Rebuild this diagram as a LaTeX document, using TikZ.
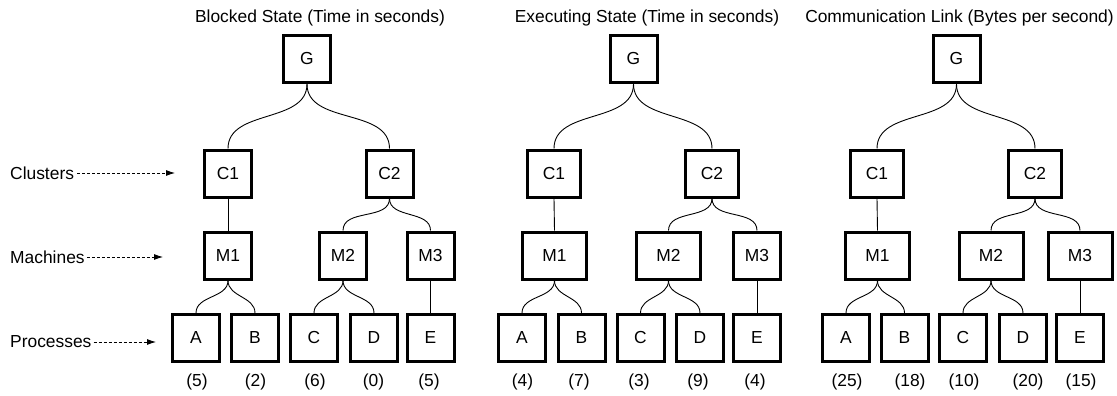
\documentclass[tikz,border=0pt]{standalone}
\usepackage{fontspec}
\setmainfont{Liberation Sans}
\usetikzlibrary{arrows.meta}
\begin{document}
\begin{tikzpicture}[x=1pt,y=-1pt,
  every node/.style={font=\fontsize{17.4}{20.9}\selectfont},
  box/.style={draw, line width=3pt, minimum height=47pt, minimum width=47pt, inner sep=0pt},
  wbox/.style={box, minimum width=53pt},
  mbox/.style={box, minimum width=64pt},
  conn/.style={line width=0.9pt},
  dasharrow/.style={line width=0.8pt, dash pattern=on 3pt off 2pt, -{Latex[length=9pt,width=6pt]}},
  ttl/.style={anchor=base},
  val/.style={inner sep=0pt}
]
\path[use as bounding box] (0,0) rectangle (1117,396);

% left labels
\node[anchor=west, inner sep=0pt] (lclus) at (10,173) {Clusters};
\node[anchor=west, inner sep=0pt] (lmach) at (10,257) {Machines};
\node[anchor=west, inner sep=0pt] (lproc) at (10,342) {Processes};
\coordinate (tclus) at (175,173);
\coordinate (tmach) at (163,257);
\coordinate (tproc) at (156,342);
\draw[dasharrow] ([xshift=3pt]lclus.east) -- (tclus);
\draw[dasharrow] ([xshift=2pt]lmach.east) -- (tmach);
\draw[dasharrow] ([xshift=2pt]lproc.east) -- (tproc);

% ---------- tree 1 ----------
\node[ttl] (t1) at (320,23) {Blocked State (Time in seconds)};
\node[box] (aG) at (307,59) {G};
\node[box] (aC1) at (228,173.5) {C1};
\node[box] (aC2) at (389.5,173.5) {C2};
\node[box] (aM1) at (228,255.5) {M1};
\node[box] (aM2) at (343,255.5) {M2};
\node[box] (aM3) at (430.5,255.5) {M3};
\node[box] (aA) at (196,338) {A};
\node[box] (aB) at (255,338) {B};
\node[box] (aC) at (314,338) {C};
\node[box] (aD) at (374,338) {D};
\node[box] (aE) at (430.5,338) {E};
\node[val] (avA) at (197,382) {(5)};
\node[val] (avB) at (255.5,382) {(2)};
\node[val] (avC) at (315,382) {(6)};
\node[val] (avD) at (373.5,382) {(0)};
\node[val] (avE) at (429,382) {(5)};
\draw[conn] (aG.south) to[out=-90,in=90] (aC1.north);
\draw[conn] (aG.south) to[out=-90,in=90] (aC2.north);
\draw[conn] (aC1.south) -- (aM1.north);
\draw[conn] (aC2.south) to[out=-90,in=90] (aM2.north);
\draw[conn] (aC2.south) to[out=-90,in=90] (aM3.north);
\draw[conn] (aM1.south) to[out=-90,in=90] (aA.north);
\draw[conn] (aM1.south) to[out=-90,in=90] (aB.north);
\draw[conn] (aM2.south) to[out=-90,in=90] (aC.north);
\draw[conn] (aM2.south) to[out=-90,in=90] (aD.north);
\draw[conn] (aM3.south) -- (aE.north);

% ---------- tree 2 ----------
\node[ttl] (t2) at (647,23) {Executing State (Time in seconds)};
\node[box] (bG) at (633.5,59) {G};
\node[wbox] (bC1) at (554,173.5) {C1};
\node[wbox] (bC2) at (712,173.5) {C2};
\node[mbox] (bM1) at (554.5,255.5) {M1};
\node[mbox] (bM2) at (668.5,255.5) {M2};
\node[box] (bM3) at (757,255.5) {M3};
\node[box] (bA) at (522,338) {A};
\node[box] (bB) at (581.5,338) {B};
\node[box] (bC) at (640.5,338) {C};
\node[box] (bD) at (700,338) {D};
\node[box] (bE) at (757,338) {E};
\node[val] (bvA) at (522.5,382) {(4)};
\node[val] (bvB) at (579,382) {(7)};
\node[val] (bvC) at (639,382) {(3)};
\node[val] (bvD) at (698,382) {(9)};
\node[val] (bvE) at (755,382) {(4)};
\draw[conn] (bG.south) to[out=-90,in=90] (bC1.north);
\draw[conn] (bG.south) to[out=-90,in=90] (bC2.north);
\draw[conn] (bC1.south) -- (bM1.north);
\draw[conn] (bC2.south) to[out=-90,in=90] (bM2.north);
\draw[conn] (bC2.south) to[out=-90,in=90] (bM3.north);
\draw[conn] (bM1.south) to[out=-90,in=90] (bA.north);
\draw[conn] (bM1.south) to[out=-90,in=90] (bB.north);
\draw[conn] (bM2.south) to[out=-90,in=90] (bC.north);
\draw[conn] (bM2.south) to[out=-90,in=90] (bD.north);
\draw[conn] (bM3.south) -- (bE.north);

% ---------- tree 3 ----------
\node[ttl] (t3) at (959.5,23) {Communication Link (Bytes per second)};
\node[box] (cG) at (956.5,59) {G};
\node[wbox] (cC1) at (877,173.5) {C1};
\node[wbox] (cC2) at (1035,173.5) {C2};
\node[mbox] (cM1) at (877.5,255.5) {M1};
\node[mbox] (cM2) at (991,255.5) {M2};
\node[mbox] (cM3) at (1080,255.5) {M3};
\node[box] (cA) at (846,338) {A};
\node[box] (cB) at (904.5,338) {B};
\node[box] (cC) at (963,338) {C};
\node[box] (cD) at (1023,338) {D};
\node[box] (cE) at (1080,338) {E};
\node[val] (cvA) at (847,382) {(25)};
\node[val] (cvB) at (910,382) {(18)};
\node[val] (cvC) at (964,382) {(10)};
\node[val] (cvD) at (1028,382) {(20)};
\node[val] (cvE) at (1081,382) {(15)};
\draw[conn] (cG.south) to[out=-90,in=90] (cC1.north);
\draw[conn] (cG.south) to[out=-90,in=90] (cC2.north);
\draw[conn] (cC1.south) -- (cM1.north);
\draw[conn] (cC2.south) to[out=-90,in=90] (cM2.north);
\draw[conn] (cC2.south) to[out=-90,in=90] (cM3.north);
\draw[conn] (cM1.south) to[out=-90,in=90] (cA.north);
\draw[conn] (cM1.south) to[out=-90,in=90] (cB.north);
\draw[conn] (cM2.south) to[out=-90,in=90] (cC.north);
\draw[conn] (cM2.south) to[out=-90,in=90] (cD.north);
\draw[conn] (cM3.south) -- (cE.north);
\end{tikzpicture}
\end{document}
